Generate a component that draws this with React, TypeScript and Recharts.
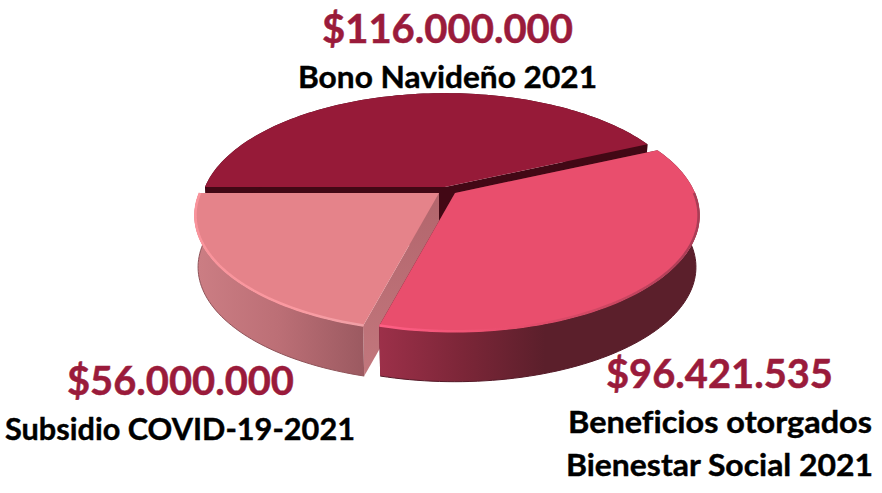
import React from 'react';
import { PieChart, Pie } from 'recharts';

const amounts = [116000000, 56000000, 96421535];
const amountLabels = ['$116.000.000', '$56.000.000', '$96.421.535'];
const nameLines = [['Bono Navideño 2021'], ['Subsidio COVID-19-2021'], ['Beneficios otorgados', 'Bienestar Social 2021']];
const chartData = amounts.map((value, i) => ({ value, label: amountLabels[i], lines: nameLines[i] }));

const TILT = 112 / 240;
const PERSPECTIVE = 0.193;
const DEPTH = 52;
const BOTTOM_SCALE = 0.985;

const sliceStyles = [
  { dx: 0, dy: 0, top: '#961A38', wall: '#420815', cut: '#420815', rim: 'none', edge: 'none' },
  { dx: -6, dy: 6, top: '#E5838A', wall: 'url(#pinkWall)', cut: 'url(#pinkCut)', rim: 'url(#pinkRim)', edge: '#8F5359' },
  { dx: 10, dy: 6, top: '#E94E6D', wall: 'url(#redWall)', cut: '#5B1F2B', rim: 'url(#redRim)', edge: '#551A28' },
];
const labelStyles = [
  { valueX: 322, valueY: 43, valueW: 251, lineX: [298], lineY: [88], lineW: [299] },
  { valueX: 67, valueY: 395, valueW: 227, lineX: [5], lineY: [440], lineW: [350] },
  { valueX: 606, valueY: 388, valueW: 227, lineX: [568, 566], lineY: [433, 476], lineW: [304, 307] },
];

const pt = (cx: number, cy: number, r: number, deg: number): [number, number] => {
  const a = (deg * Math.PI) / 180;
  const w = 1 + PERSPECTIVE * Math.sin(a);
  return [cx + (r * Math.cos(a)) / w, cy - (r * TILT * Math.sin(a)) / w];
};
const arc = (cx: number, cy: number, r: number, from: number, to: number) => {
  const n = Math.max(2, Math.ceil(Math.abs(to - from) / 1.5));
  const out: [number, number][] = [];
  for (let i = 0; i <= n; i++) out.push(pt(cx, cy, r, from + ((to - from) * i) / n));
  return out;
};
const toPath = (p: [number, number][], close = true) =>
  'M' + p.map(([x, y]) => `${x.toFixed(2)} ${y.toFixed(2)}`).join('L') + (close ? 'Z' : '');

function Slice(props: any) {
  const { cx, cy, outerRadius, startAngle, endAngle, index } = props;
  const s = sliceStyles[index];
  const x0 = cx + s.dx;
  const y0 = cy + s.dy;
  const r = outerRadius;
  const topArc = arc(x0, y0, r, startAngle, endAngle);
  const botArc = arc(x0, y0 + DEPTH, r * BOTTOM_SCALE, startAngle, endAngle);
  const apexTop: [number, number] = [x0, y0];
  const apexBot: [number, number] = [x0, y0 + DEPTH];
  const cutA = [apexTop, topArc[0], botArc[0], apexBot] as [number, number][];
  const cutB = [apexTop, topArc[topArc.length - 1], botArc[botArc.length - 1], apexBot] as [number, number][];
  const wall = [...topArc, ...[...botArc].reverse()];
  return (
    <g>
      <path d={toPath(cutA)} fill={s.cut} />
      <path d={toPath(cutB)} fill={s.cut} />
      <path d={toPath(wall)} fill={s.wall} />
      {s.edge !== 'none' && <path d={toPath(botArc, false)} fill="none" stroke={s.edge} strokeWidth={1} />}
      <path d={toPath([apexTop, ...topArc])} fill={s.top} />
      {s.rim !== 'none' && (
        <path
          d={toPath(arc(x0, y0, r - 1, startAngle, Math.min(endAngle, 360)), false)}
          fill="none"
          stroke={s.rim}
          strokeWidth={2.5}
          filter="url(#rimSoft)"
        />
      )}
    </g>
  );
}

function SliceLabel(props: any) {
  const { index, payload } = props;
  const l = labelStyles[index];
  const data = payload?.payload ?? payload;
  const family = 'Lato, "Open Sans", sans-serif';
  return (
    <g fontFamily={family} fontWeight={700} style={{ fontVariantLigatures: 'none' }}>
      <text x={l.valueX} y={l.valueY} fontSize={40} fill="#9A1B3B" stroke="#9A1B3B" strokeWidth={0.5} textLength={l.valueW} lengthAdjust="spacingAndGlyphs">
        {data.label}
      </text>
      {data.lines.map((line: string, i: number) => (
        <text key={line} x={l.lineX[i]} y={l.lineY[i]} fontSize={30} fill="#000" stroke="#000" strokeWidth={0.4} textLength={l.lineW[i]} lengthAdjust="spacingAndGlyphs">
          {line}
        </text>
      ))}
    </g>
  );
}

export default function App() {
  return (
    <div style={{ position: 'absolute', left: 0, top: 0, width: 882, height: 493, background: '#fff' }}>
      <PieChart width={882} height={493} margin={{ top: 0, right: 0, bottom: 0, left: 0 }}>
        <defs>
          <filter id="rimSoft" x="-5%" y="-5%" width="110%" height="110%">
            <feGaussianBlur stdDeviation="0.7" />
          </filter>
          <linearGradient id="pinkWall" gradientUnits="userSpaceOnUse" x1={194} y1={0} x2={362} y2={0}>
            <stop offset="0" stopColor="#CC7E84" />
            <stop offset="0.5" stopColor="#BC6F76" />
            <stop offset="1" stopColor="#9C5A61" />
          </linearGradient>
          <linearGradient id="pinkCut" gradientUnits="userSpaceOnUse" x1={0} y1={200} x2={0} y2={376}>
            <stop offset="0" stopColor="#B3666D" />
            <stop offset="1" stopColor="#C2777D" />
          </linearGradient>
          <linearGradient id="redWall" gradientUnits="userSpaceOnUse" x1={380} y1={0} x2={545} y2={0}>
            <stop offset="0" stopColor="#9C3049" />
            <stop offset="0.5" stopColor="#7C2638" />
            <stop offset="1" stopColor="#5B1F2B" />
          </linearGradient>
          <linearGradient id="pinkRim" gradientUnits="userSpaceOnUse" x1={194} y1={0} x2={362} y2={0}>
            <stop offset="0" stopColor="#F9939B" />
            <stop offset="0.6" stopColor="#FB9AA1" />
            <stop offset="1" stopColor="#F0A0A6" />
          </linearGradient>
          <linearGradient id="redRim" gradientUnits="userSpaceOnUse" x1={380} y1={0} x2={700} y2={0}>
            <stop offset="0" stopColor="#FF5F85" />
            <stop offset="0.4" stopColor="#E94E6D" />
            <stop offset="0.75" stopColor="#C84560" />
            <stop offset="1" stopColor="#A83C55" />
          </linearGradient>
        </defs>
        <Pie
          data={chartData}
          dataKey="value"
          cx={445}
          cy={187}
          innerRadius={0}
          outerRadius={240}
          startAngle={24.4}
          endAngle={384.4}
          paddingAngle={0}
          stroke="none"
          isAnimationActive={false}
          shape={Slice}
          label={SliceLabel}
          labelLine={false}
        />
      </PieChart>
    </div>
  );
}
